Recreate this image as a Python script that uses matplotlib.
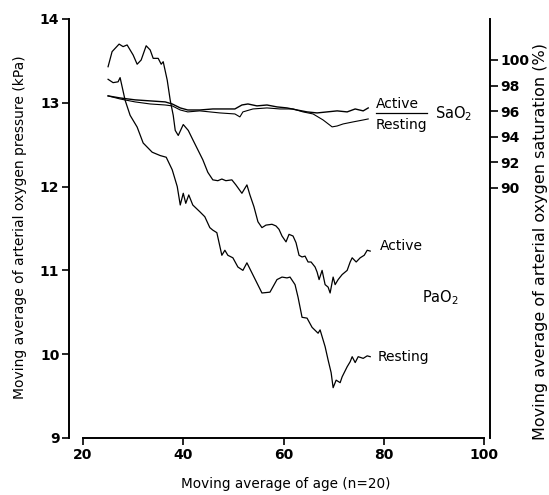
import numpy as np
import matplotlib.pyplot as plt

plt.rcParams['font.family'] = 'DejaVu Sans'
plt.rcParams['mathtext.default'] = 'regular'

# PaO2 (kPa), active group
age_pa_active = [25.0, 25.8, 27.2, 28.0, 28.8, 30.0, 30.8, 31.6, 32.6, 33.4, 34.0, 35.0, 35.6, 36.0,
                 36.8, 37.4, 38.0, 38.4, 39.0, 40.0, 41.0, 41.9, 42.9, 43.9, 44.9, 45.9, 46.9, 47.7,
                 48.5, 49.7, 50.5, 51.7, 52.7, 53.3, 54.1, 54.9, 55.7, 56.5, 57.7, 58.5, 59.1, 59.7,
                 60.5, 61.1, 61.9, 62.5, 63.1, 63.7, 64.3, 64.9, 65.5, 66.3, 66.7, 67.1, 67.7, 68.3,
                 68.9, 69.3, 69.9, 70.3, 70.9, 71.7, 72.7, 73.3, 73.7, 74.5, 75.3, 76.1, 76.7, 77.3]
pao2_active = [13.43, 13.61, 13.70, 13.67, 13.69, 13.57, 13.46, 13.51, 13.68, 13.63, 13.53, 13.53, 13.46, 13.49,
               13.27, 13.03, 12.85, 12.67, 12.61, 12.74, 12.67, 12.56, 12.44, 12.32, 12.17, 12.08, 12.07, 12.09,
               12.07, 12.08, 12.02, 11.92, 12.02, 11.90, 11.76, 11.58, 11.51, 11.54, 11.55, 11.53, 11.49, 11.41,
               11.34, 11.43, 11.41, 11.33, 11.18, 11.16, 11.17, 11.10, 11.10, 11.04, 10.98, 10.89, 11.00, 10.83,
               10.80, 10.73, 10.92, 10.83, 10.89, 10.95, 11.00, 11.10, 11.15, 11.10, 11.15, 11.18, 11.24, 11.23]

# PaO2 (kPa), resting group
age_pa_resting = [25.0, 26.0, 27.0, 27.4, 28.4, 29.4, 30.8, 32.0, 33.8, 35.4, 36.6, 37.8, 38.8, 39.4,
                  40.0, 40.5, 41.1, 41.9, 43.3, 44.3, 45.3, 45.9, 46.7, 47.7, 48.3, 48.9, 49.9, 50.9,
                  51.9, 52.7, 53.7, 54.7, 55.7, 57.3, 58.7, 59.7, 60.7, 61.3, 62.3, 62.9, 63.7, 64.7,
                  65.7, 66.9, 67.3, 67.7, 68.3, 68.9, 69.5, 69.9, 70.5, 71.3, 71.7, 72.7, 73.3, 73.7,
                  74.3, 74.9, 75.9, 76.7, 77.3]
pao2_resting = [13.28, 13.24, 13.25, 13.30, 13.03, 12.85, 12.71, 12.52, 12.41, 12.37, 12.35, 12.20, 12.00, 11.78,
                11.92, 11.80, 11.90, 11.78, 11.70, 11.64, 11.51, 11.48, 11.45, 11.18, 11.24, 11.18, 11.15, 11.04,
                11.00, 11.09, 10.97, 10.85, 10.73, 10.74, 10.89, 10.92, 10.91, 10.92, 10.83, 10.68, 10.44, 10.43,
                10.32, 10.25, 10.29, 10.21, 10.09, 9.93, 9.78, 9.60, 9.69, 9.66, 9.73, 9.85, 9.91, 9.97,
                9.90, 9.97, 9.95, 9.98, 9.97]

# SaO2 (%), active group
age_sa_active = [25.0, 27.4, 30.4, 33.4, 36.4, 37.8, 39.4, 40.9, 43.3, 45.9, 50.3, 51.7, 52.9, 54.7,
                 56.7, 58.7, 60.7, 62.7, 64.7, 66.7, 68.7, 70.7, 72.7, 74.3, 75.9, 76.9]
sao2_active = [97.19, 97.03, 96.88, 96.80, 96.72, 96.56, 96.25, 96.09, 96.09, 96.17, 96.17, 96.48, 96.56, 96.41,
               96.48, 96.33, 96.25, 96.09, 95.94, 95.86, 95.94, 96.02, 95.94, 96.17, 96.02, 96.25]

# SaO2 (%), resting group
age_sa_resting = [25.0, 27.4, 30.4, 33.4, 36.4, 37.8, 39.4, 40.9, 43.3, 47.3, 50.3, 51.3, 51.9, 53.9,
                  56.7, 59.3, 61.9, 63.9, 65.9, 67.9, 69.7, 70.7, 71.9, 73.9, 75.9, 76.9]
sao2_resting = [97.19, 96.95, 96.72, 96.56, 96.48, 96.41, 96.09, 95.94, 96.02, 95.86, 95.78, 95.55, 95.94, 96.17,
                96.25, 96.17, 96.17, 95.94, 95.78, 95.31, 94.77, 94.84, 95.00, 95.16, 95.31, 95.39]

x_ticks = [20, 40, 60, 80, 100]
pa_ticks = [9, 10, 11, 12, 13, 14]
sa_ticks = [90, 92, 94, 96, 98, 100]

fig = plt.figure(figsize=(5.49, 4.95), dpi=100)
ax = fig.add_axes([0.1512, 0.1152, 0.7304, 0.8465])
ax2 = ax.twinx()

ax.plot(age_pa_active, pao2_active, color='black', lw=0.9)
ax.plot(age_pa_resting, pao2_resting, color='black', lw=0.9)
ax2.plot(age_sa_active, sao2_active, color='black', lw=1.0)
ax2.plot(age_sa_resting, sao2_resting, color='black', lw=0.8)

ax.set_xlim(20, 100)
ax.set_ylim(9, 14)
ax2.set_ylim(70.47, 103.2)

ax.spines['top'].set_visible(False)
ax.spines['right'].set_visible(False)
ax.spines['left'].set_position(('outward', 10))
for s in ['top', 'left', 'bottom']:
    ax2.spines[s].set_visible(False)
ax2.spines['right'].set_position(('outward', 4))
for s in ['left', 'bottom']:
    ax.spines[s].set_linewidth(1.4)
ax2.spines['right'].set_linewidth(1.4)

ax.set_xticks(x_ticks, [str(t) for t in x_ticks], fontweight='bold')
ax.set_yticks(pa_ticks, [str(t) for t in pa_ticks], fontweight='bold')
ax2.set_yticks(sa_ticks, [str(t) for t in sa_ticks], fontweight='bold')
ax.tick_params(axis='both', direction='out', length=5, width=1.2, labelsize=10, pad=2)
ax2.tick_params(axis='y', direction='out', length=6, width=1.2, labelsize=10, pad=2)

ax.set_xlabel('Moving average of age (n=20)', fontsize=9.8)
ax.xaxis.set_label_coords(0.506, -0.093)
ax.set_ylabel('Moving average of arterial oxygen pressure (kPa)', fontsize=10)
ax.yaxis.set_label_coords(-0.14, 0.504)
ax2.set_ylabel('Moving average of arterial oxygen saturation (%)', fontsize=11.5)
ax2.yaxis.set_label_coords(1.122, 0.47)

# annotations
ax.text(78.4, 12.99, 'Active', fontsize=10, va='center', ha='left')
ax.text(78.4, 12.74, 'Resting', fontsize=10, va='center', ha='left')
ax.plot([78.4, 88.7], [12.88, 12.88], color='black', lw=0.9)
ax.text(90.2, 12.87, 'SaO$_2$', fontsize=10.5, va='center', ha='left')
ax.text(79.2, 11.29, 'Active', fontsize=10, va='center', ha='left')
ax.text(87.6, 10.67, 'PaO$_2$', fontsize=10.5, va='center', ha='left')
ax.text(78.8, 9.97, 'Resting', fontsize=10, va='center', ha='left')

fig.savefig('out.png', dpi=100)
